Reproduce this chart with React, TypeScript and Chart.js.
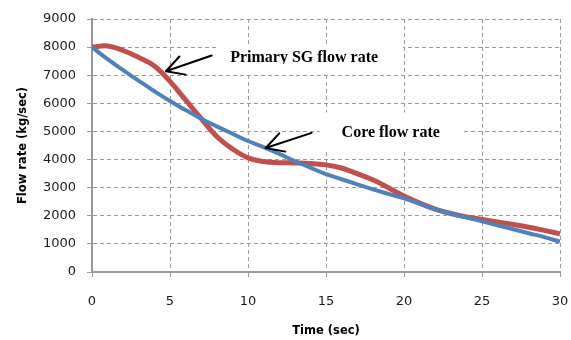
import React, { useEffect, useRef } from "react";
import { Chart, registerables } from "chart.js";

Chart.register(...registerables);

const times = [0, 1, 2, 3, 4, 5, 6, 7, 8, 9, 10, 11, 12, 13, 14, 15, 16, 17, 18, 19, 20, 21, 22, 23, 24, 25, 26, 27, 28, 29, 30];
const primarySG = [8000, 8040, 7880, 7630, 7330, 6780, 6120, 5460, 4820, 4380, 4060, 3930, 3890, 3880, 3860, 3810, 3700, 3500, 3280, 3000, 2700, 2450, 2240, 2080, 1960, 1870, 1780, 1690, 1590, 1480, 1360];
const coreFlow = [8000, 7570, 7180, 6800, 6430, 6080, 5760, 5450, 5180, 4920, 4660, 4440, 4200, 3950, 3710, 3480, 3300, 3120, 2940, 2780, 2620, 2430, 2230, 2080, 1940, 1800, 1660, 1520, 1380, 1240, 1080];

const seriesNames = ["Core flow rate", "Primary SG flow rate"];
const xTitle = "Time (sec)";
const yTitle = "Flow rate (kg/sec)";

// annotation labels (data units)
const labelTexts = ["Primary SG flow rate", "Core flow rate"];
const labelCenters = [[13.6, 7626], [19.15, 4947]];
const labelBoxes = [[8.0, 19.94, 8020, 7020], [14.62, 23.72, 5670, 4352]];
const labelClipBottom = [7395, null];
const arrowTails = [[7.67, 7700], [14.08, 4950]];
const arrowTips = [[4.74, 7140], [11.13, 4410]];

const annotationPlugin = {
  id: "annotations",
  afterDatasetsDraw(chart: any) {
    const { ctx, scales } = chart;
    const xs = scales.x;
    const ys = scales.y;
    ctx.save();
    for (let i = 0; i < labelTexts.length; i++) {
      const b = labelBoxes[i];
      const x0 = xs.getPixelForValue(b[0]);
      const x1 = xs.getPixelForValue(b[1]);
      const y0 = ys.getPixelForValue(b[2]);
      const y1 = ys.getPixelForValue(b[3]);
      ctx.fillStyle = "#ffffff";
      ctx.fillRect(x0, y0, x1 - x0, y1 - y0);
    }
    for (let i = 0; i < labelTexts.length; i++) {
      const c = labelCenters[i];
      ctx.save();
      const clip = labelClipBottom[i];
      if (clip !== null) {
        const cy = ys.getPixelForValue(clip as number);
        ctx.beginPath();
        ctx.rect(0, 0, chart.width, cy);
        ctx.clip();
      }
      ctx.fillStyle = "#000000";
      ctx.font = "bold 16px 'Liberation Serif', 'Times New Roman', serif";
      ctx.textAlign = "center";
      ctx.textBaseline = "middle";
      ctx.fillText(labelTexts[i], xs.getPixelForValue(c[0]), ys.getPixelForValue(c[1]));
      ctx.restore();
    }
    ctx.strokeStyle = "#000000";
    ctx.lineWidth = 2;
    ctx.lineCap = "round";
    ctx.lineJoin = "round";
    for (let i = 0; i < arrowTips.length; i++) {
      const tx = xs.getPixelForValue(arrowTips[i][0]);
      const ty = ys.getPixelForValue(arrowTips[i][1]);
      const sx = xs.getPixelForValue(arrowTails[i][0]);
      const sy = ys.getPixelForValue(arrowTails[i][1]);
      const ang = Math.atan2(sy - ty, sx - tx);
      const len = 20;
      const spread = 0.5;
      ctx.beginPath();
      ctx.moveTo(sx, sy);
      ctx.lineTo(tx, ty);
      ctx.moveTo(tx + len * Math.cos(ang - spread), ty + len * Math.sin(ang - spread));
      ctx.lineTo(tx, ty);
      ctx.lineTo(tx + len * Math.cos(ang + spread), ty + len * Math.sin(ang + spread));
      ctx.stroke();
    }
    ctx.restore();
  },
};

export default function App() {
  const ref = useRef<HTMLCanvasElement>(null);
  useEffect(() => {
    if (!ref.current) return;
    const tickFont = { family: "'DejaVu Sans', sans-serif", size: 13 };
    const titleFont = { family: "'DejaVu Sans', sans-serif", size: 11.5, weight: "bold" as const };
    const plain = (v: any) => String(v);
    const chart = new Chart(ref.current, {
      type: "line",
      data: {
        datasets: [
          {
            label: seriesNames[0],
            data: times.map((t, i) => ({ x: t, y: coreFlow[i] })),
            borderColor: "#4F81BD",
            borderWidth: 4,
            pointRadius: 0,
            tension: 0.4,
            fill: false,
          },
          {
            label: seriesNames[1],
            data: times.map((t, i) => ({ x: t, y: primarySG[i] })),
            borderColor: "#C0504D",
            borderWidth: 5,
            pointRadius: 0,
            tension: 0.4,
            fill: false,
          },
        ],
      },
      options: {
        animation: false,
        responsive: false,
        maintainAspectRatio: false,
        layout: { padding: { top: 19, right: 11, left: 0, bottom: 0 } },
        plugins: { legend: { display: false }, tooltip: { enabled: false } },
        scales: {
          x: {
            type: "linear",
            min: 0,
            max: 30,
            ticks: { stepSize: 5, color: "#1a1a1a", font: tickFont, padding: 17, callback: plain },
            grid: { color: "#999999", lineWidth: 1, tickLength: 5, tickColor: "#999999", tickBorderDash: [] },
            border: { display: true, color: "#999999", width: 2, dash: [4, 3] },
            title: { display: true, text: xTitle, color: "#000000", font: titleFont, padding: { top: 0, bottom: 2 } },
            afterFit: (s: any) => { s.height = 68; s.paddingLeft = 0; s.paddingRight = 0; },
          },
          y: {
            type: "linear",
            min: 0,
            max: 9000,
            ticks: { stepSize: 1000, color: "#1a1a1a", font: tickFont, padding: 11, callback: plain },
            grid: { color: "#999999", lineWidth: 1, tickLength: 5, tickColor: "#999999", tickBorderDash: [] },
            border: { display: true, color: "#999999", width: 2, dash: [4, 3] },
            title: { display: true, text: yTitle, color: "#000000", font: titleFont, padding: { top: 16, bottom: 0 } },
            afterFit: (s: any) => { s.width = 92; },
          },
        },
      },
      plugins: [annotationPlugin],
    });
    return () => chart.destroy();
  }, []);
  return (
    <div style={{ position: "absolute", left: 0, top: 0, width: 571, height: 340, background: "#fff" }}>
      <canvas ref={ref} width={571} height={340} style={{ width: 571, height: 340 }} />
    </div>
  );
}
